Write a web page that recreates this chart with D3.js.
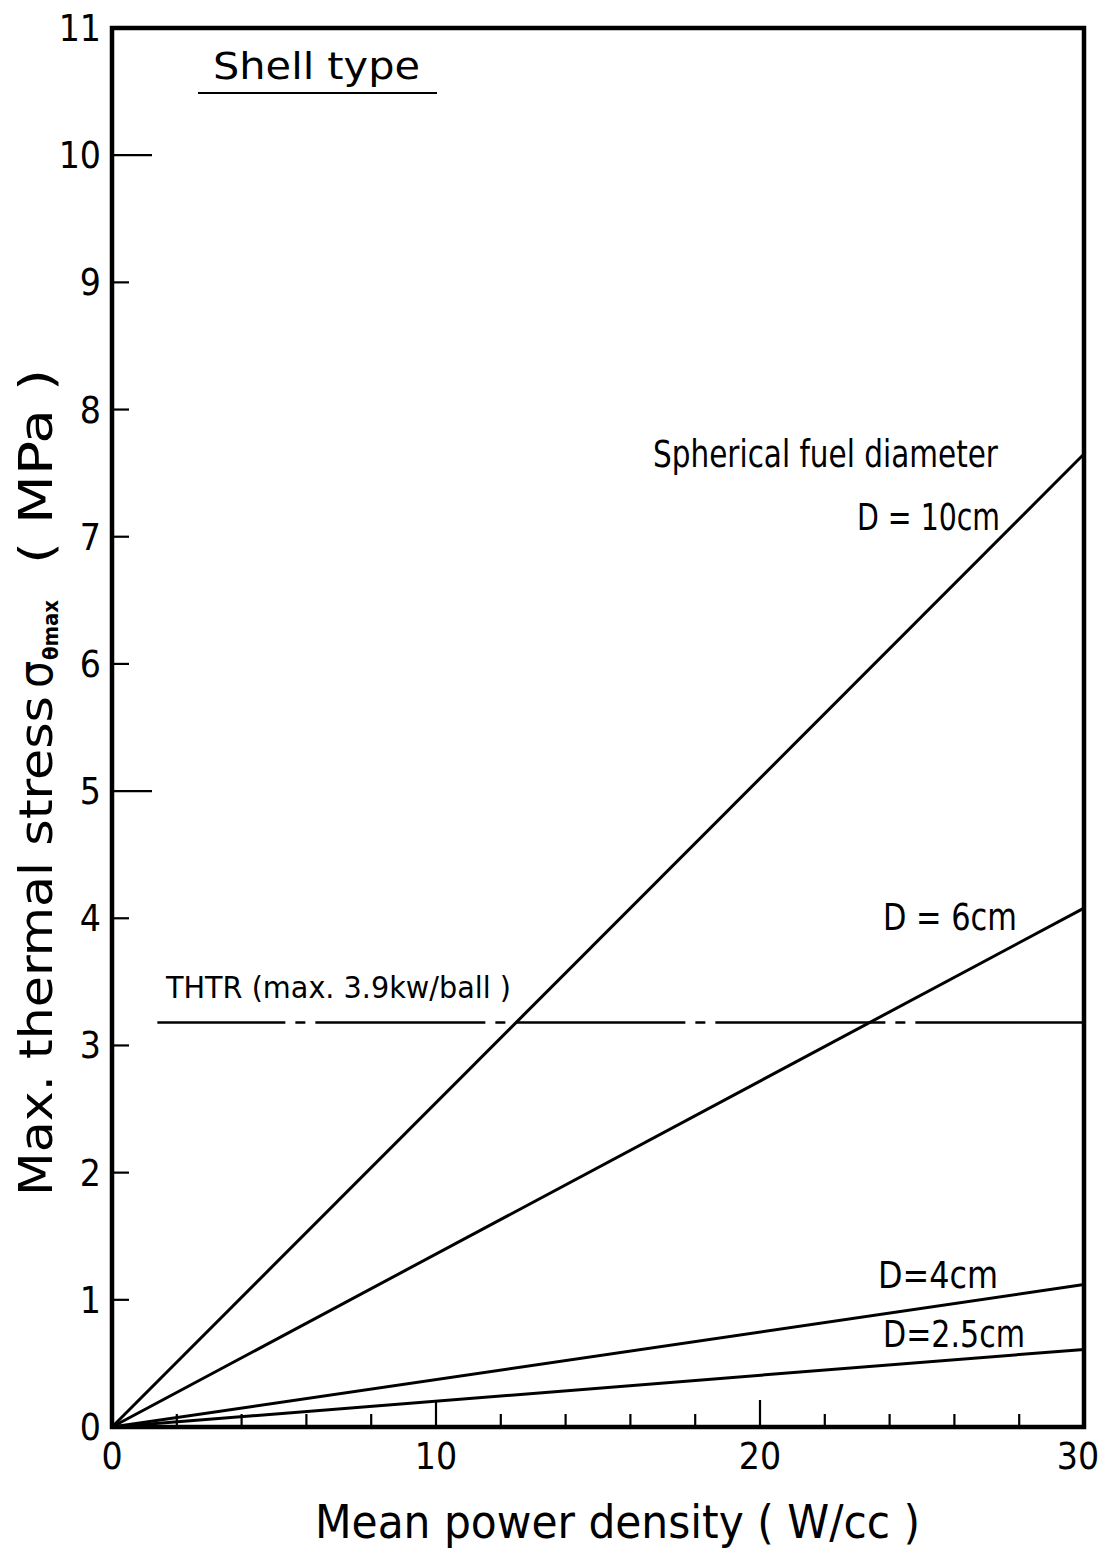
<!DOCTYPE html>
<html>
<head>
<meta charset="utf-8">
<script src="https://cdn.jsdelivr.net/npm/d3@7"></script>
<style>
  html, body { margin: 0; padding: 0; background: #fff; }
  svg text { font-family: "DejaVu Sans Condensed", "DejaVu Sans", sans-serif; fill: #000; }
</style>
</head>
<body>
<svg id="chart" width="1102" height="1551"></svg>
<script>
// Mean power density (W/cc) at the ends of each line
const powerDensity = [0, 30];
// Spherical fuel diameters and the max. thermal stress (MPa) reached at each power density
const diameters = ["D = 10cm", "D = 6cm", "D = 4cm", "D = 2.5cm"];
const stressD10 = [0, 7.65];
const stressD6 = [0, 4.08];
const stressD4 = [0, 1.12];
const stressD25 = [0, 0.61];
// THTR reference level (max. 3.9 kW/ball)
const thtrPower = [1.4, 30];
const thtrStress = [3.18, 3.18];
// Axis ticks
const xMajorTicks = [0, 10, 20, 30];
const xMinorTicks = [2, 4, 6, 8, 12, 14, 16, 18, 22, 24, 26, 28];
const yTicks = [0, 1, 2, 3, 4, 5, 6, 7, 8, 9, 10, 11];

const svg = d3.select("#chart");
const plotLeft = 112, plotRight = 1084, plotTop = 28, plotBottom = 1427;

const x = d3.scaleLinear().domain([0, 30]).range([plotLeft, plotRight]);
const y = d3.scaleLinear().domain([0, 11]).range([plotBottom, plotTop]);

// Frame
svg.append("rect")
  .attr("x", plotLeft).attr("y", plotTop)
  .attr("width", plotRight - plotLeft).attr("height", plotBottom - plotTop)
  .attr("fill", "none").attr("stroke", "#000").attr("stroke-width", 4.5);

// Inward ticks on the x axis
const xTickG = svg.append("g");
xTickG.selectAll("line.major")
  .data(xMajorTicks.filter(d => d > 0 && d < 30))
  .join("line").attr("class", "major")
  .attr("x1", d => x(d)).attr("x2", d => x(d))
  .attr("y1", plotBottom).attr("y2", plotBottom - 27)
  .attr("stroke", "#000").attr("stroke-width", 2.2);
xTickG.selectAll("line.minor")
  .data(xMinorTicks)
  .join("line").attr("class", "minor")
  .attr("x1", d => x(d)).attr("x2", d => x(d))
  .attr("y1", plotBottom).attr("y2", plotBottom - 13)
  .attr("stroke", "#000").attr("stroke-width", 2.2);

// x tick labels
svg.append("g").selectAll("text")
  .data(xMajorTicks)
  .join("text")
  .attr("x", d => x(d) - (d === 30 ? 6 : 0))
  .attr("y", plotBottom + 42)
  .attr("text-anchor", "middle")
  .attr("font-size", 37)
  .text(d => d);

// Inward ticks on the y axis (longer at 5 and 10)
svg.append("g").selectAll("line")
  .data(yTicks.filter(d => d > 0 && d < 11))
  .join("line")
  .attr("x1", plotLeft).attr("x2", d => plotLeft + (d % 5 === 0 ? 40 : 17))
  .attr("y1", d => y(d)).attr("y2", d => y(d))
  .attr("stroke", "#000").attr("stroke-width", 2.2);

// y tick labels
svg.append("g").selectAll("text")
  .data(yTicks)
  .join("text")
  .attr("x", plotLeft - 11)
  .attr("y", d => y(d) + 13)
  .attr("text-anchor", "end")
  .attr("font-size", 37)
  .text(d => d);

// Stress lines
const line = d3.line().x(d => x(d[0])).y(d => y(d[1]));
const series = [stressD10, stressD6, stressD4, stressD25];
svg.append("g").selectAll("path")
  .data(series)
  .join("path")
  .attr("d", s => line(powerDensity.map((p, i) => [p, s[i]])))
  .attr("fill", "none").attr("stroke", "#000").attr("stroke-width", 3);

// THTR chain line
svg.append("path")
  .attr("d", line(thtrPower.map((p, i) => [p, thtrStress[i]])))
  .attr("fill", "none").attr("stroke", "#000").attr("stroke-width", 2.4)
  .attr("stroke-dasharray", "170,10,10,10")
  .attr("stroke-dashoffset", 42);

// Annotations
function label(txt, x0, yb, size, len) {
  const t = svg.append("text")
    .attr("x", x0).attr("y", yb)
    .attr("font-size", size)
    .text(txt);
  if (len) t.attr("textLength", len).attr("lengthAdjust", "spacingAndGlyphs");
  return t;
}
label("Shell type", 213, 79, 38, 207);
svg.append("line").attr("x1", 198).attr("x2", 437).attr("y1", 93).attr("y2", 93)
  .attr("stroke", "#000").attr("stroke-width", 2);

label("Spherical fuel diameter", 653, 467, 37, 345);
label(diameters[0], 857, 530, 38, 143);
label(diameters[1], 883, 930, 37, 134);
label(diameters[2].replace(/ /g, ""), 878, 1288, 37, 120);
label(diameters[3].replace(/ /g, ""), 883, 1347, 37, 142);
label("THTR (max. 3.9kw/ball )", 166, 998, 31, 345);

// x axis title
label("Mean power density ( W/cc )", 315, 1538, 46, 605);

// y axis title (rotated)
const yTitle = svg.append("g").attr("transform", "translate(52,1196) rotate(-90)");
yTitle.append("text").attr("x", 0).attr("y", 0).attr("font-size", 46)
  .attr("textLength", 500).attr("lengthAdjust", "spacingAndGlyphs")
  .text("Max. thermal stress");
yTitle.append("text").attr("x", 508).attr("y", 0).attr("font-size", 48)
  .text("σ");
yTitle.append("text").attr("x", 536).attr("y", 6).attr("font-size", 22)
  .attr("font-weight", "bold")
  .attr("textLength", 60).attr("lengthAdjust", "spacingAndGlyphs")
  .text("θmax");
yTitle.append("text").attr("x", 632).attr("y", 0).attr("font-size", 46)
  .attr("textLength", 195).attr("lengthAdjust", "spacingAndGlyphs")
  .text("( MPa )");
</script>
</body>
</html>
